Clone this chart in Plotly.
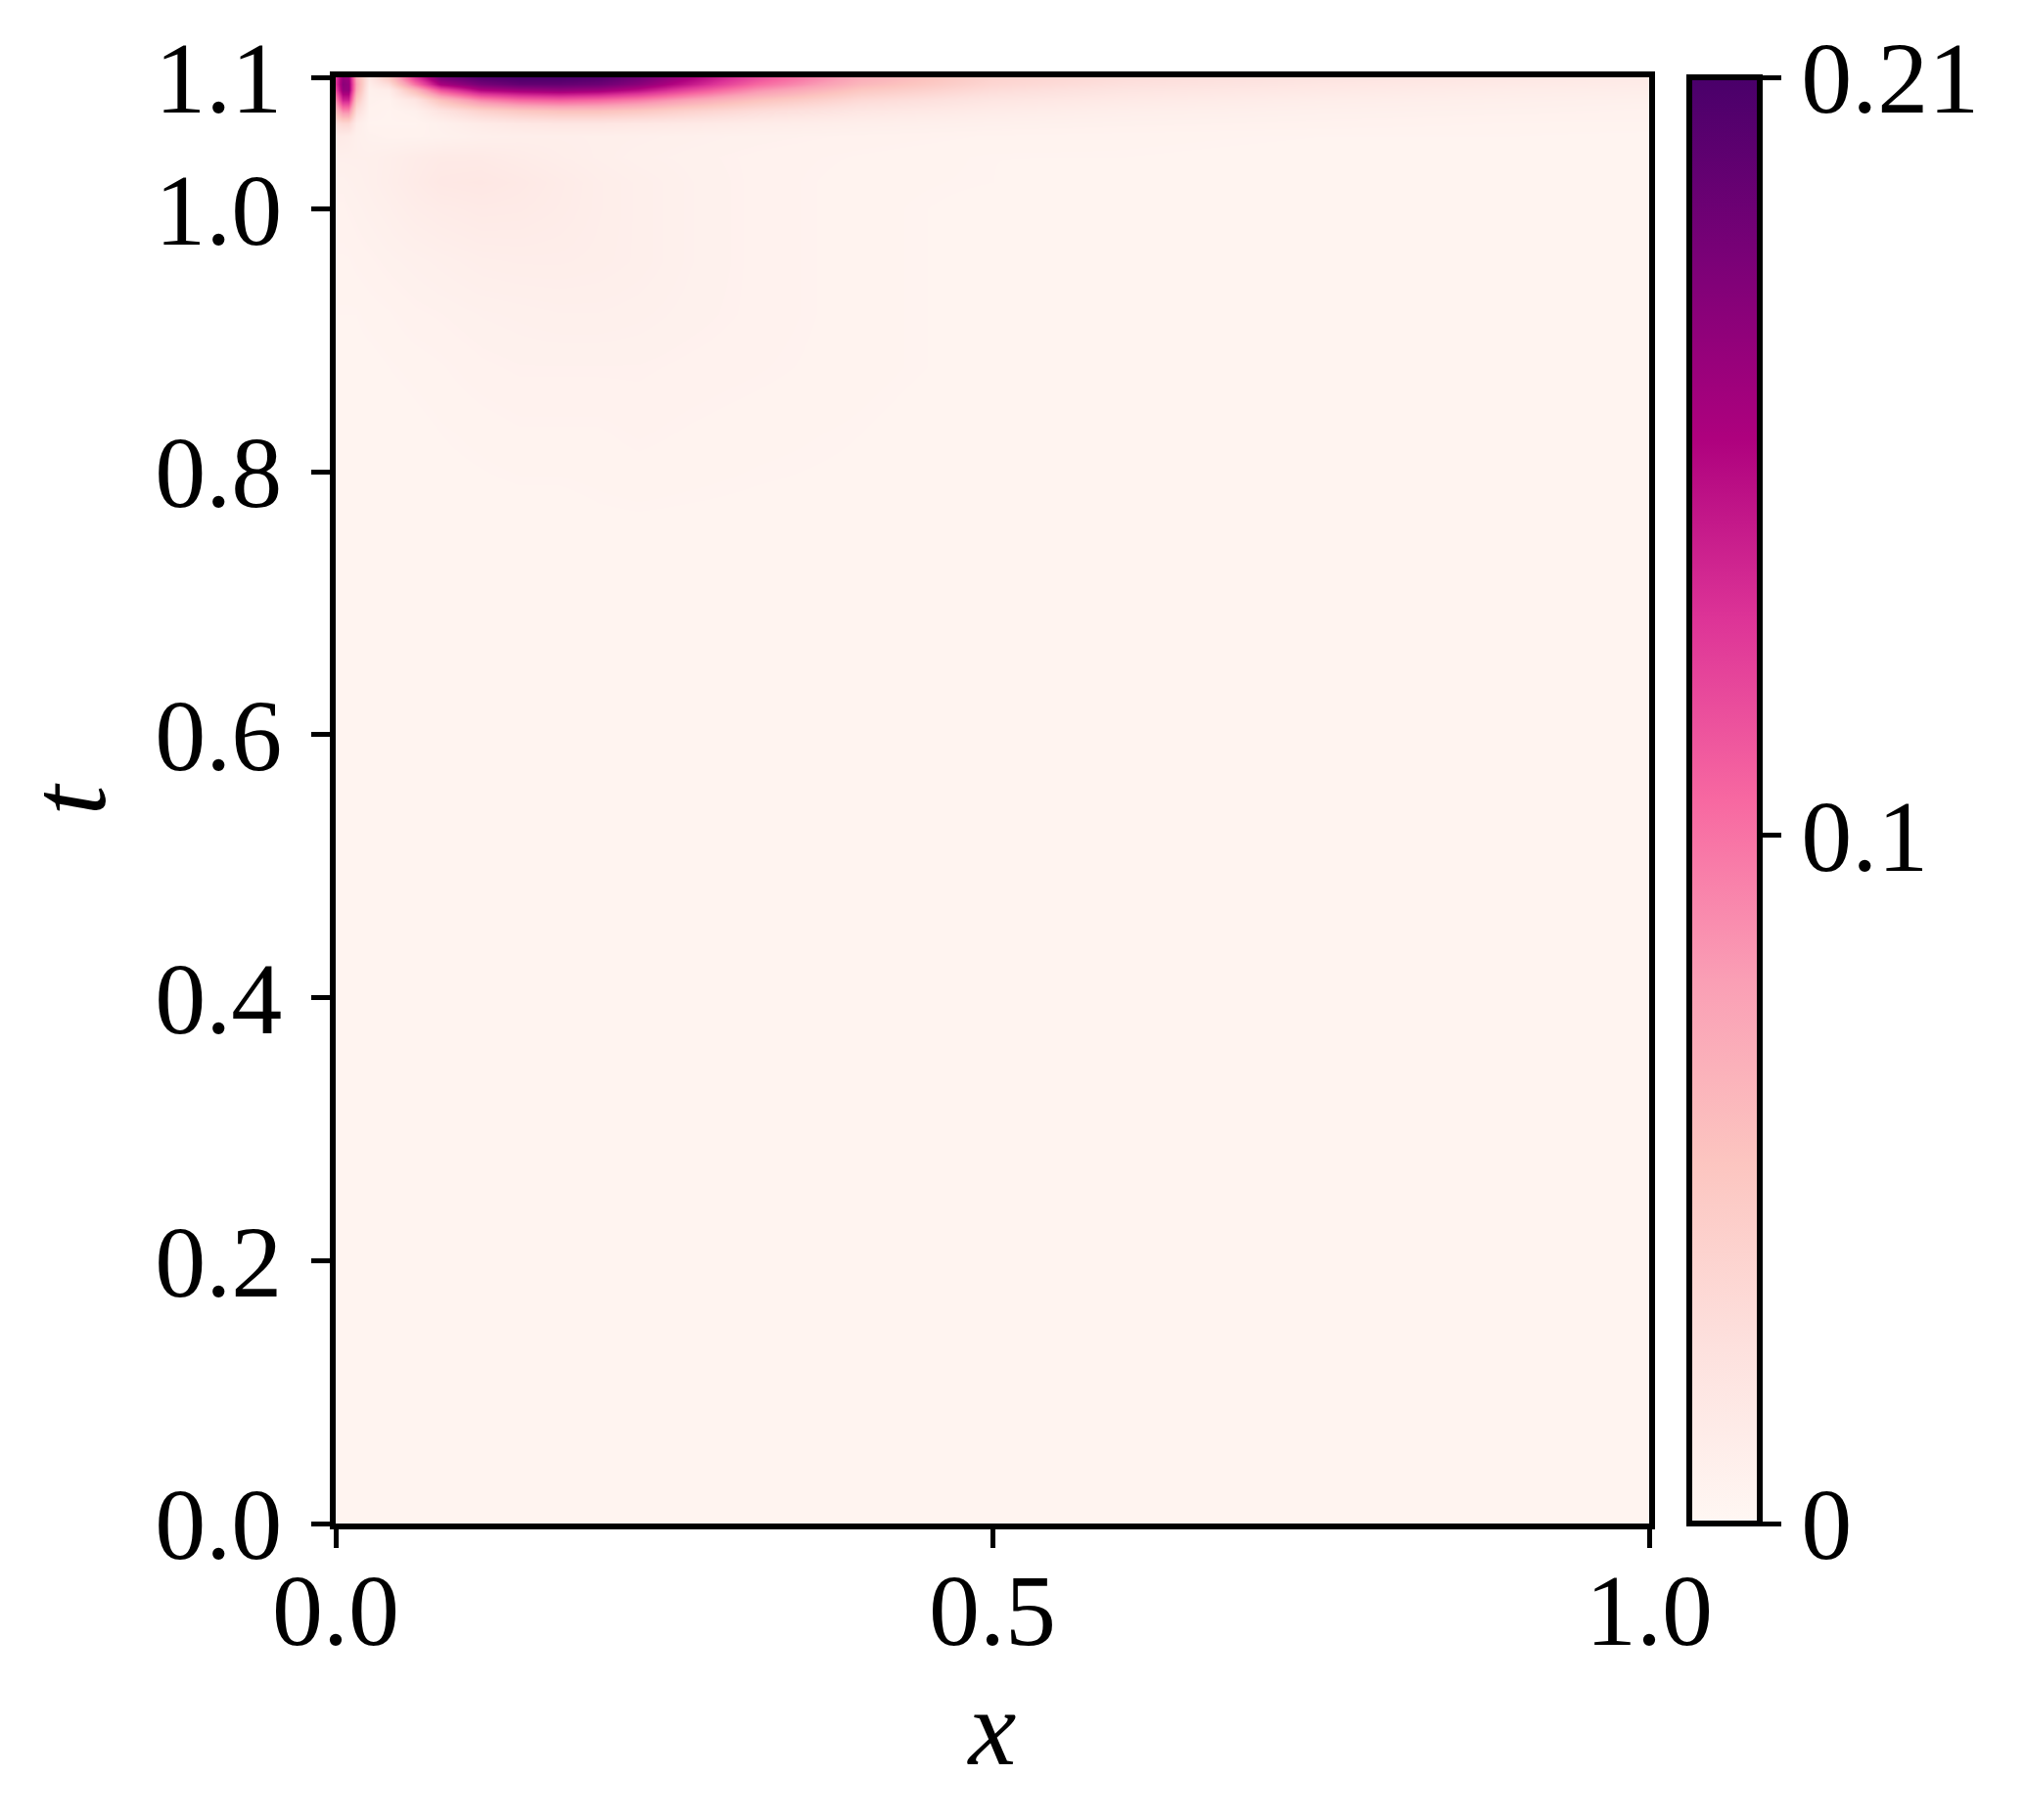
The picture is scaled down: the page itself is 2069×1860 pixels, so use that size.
import plotly.graph_objects as go

# grid (non-uniform, denser where the field changes fast)
x_vals = [0.0, 0.005, 0.01, 0.016, 0.025, 0.04, 0.06, 0.08, 0.11, 0.14, 0.17,
          0.2, 0.23, 0.27, 0.32, 0.4, 0.5, 0.6, 0.75, 0.9, 1.0]
t_vals = [0.0, 0.5, 0.75, 0.83, 0.88, 0.92, 0.96, 1.0, 1.02, 1.04, 1.055,
          1.065, 1.075, 1.083, 1.09, 1.095, 1.1]

# one row per t value, bottom to top
row_t000 = [.003] * 21
row_t050 = [.003] * 21
row_t075 = [.003, .003, .003, .003, .003, .003, .003, .003, .003, .003, .003,
            .0035, .0035, .0035, .0035, .0035, .003, .003, .003, .003, .003]
row_t083 = [.003, .003, .003, .003, .003, .003, .0035, .004, .0045, .005, .005,
            .005, .0055, .005, .0045, .004, .003, .003, .003, .003, .003]
row_t088 = [.0035, .0035, .0035, .0035, .0035, .004, .0045, .005, .006, .0065, .0065,
            .0065, .0065, .006, .0055, .0045, .0035, .003, .003, .003, .003]
row_t092 = [.004, .004, .004, .004, .0045, .005, .006, .0065, .0075, .008, .0085,
            .0085, .008, .007, .006, .0045, .0035, .003, .003, .003, .003]
row_t096 = [.005, .005, .005, .0055, .006, .007, .008, .009, .0105, .011, .011,
            .0105, .0095, .0075, .006, .0045, .0035, .003, .003, .003, .003]
row_t100 = [.006, .006, .0065, .007, .008, .0095, .012, .0135, .015, .0145, .013,
            .011, .0095, .0075, .006, .0045, .0035, .0035, .003, .003, .003]
row_t102 = [.007, .007, .0075, .008, .009, .011, .014, .017, .018, .016, .0135,
            .011, .0095, .0075, .006, .0045, .004, .0035, .0035, .0035, .0035]
row_t104 = [.009, .009, .009, .009, .009, .0105, .013, .015, .015, .013, .011,
            .0095, .008, .007, .006, .005, .004, .004, .0035, .0035, .0035]
row_t1055 = [.015, .014, .013, .009, .007, .006, .006, .007, .009, .01, .01,
             .0095, .009, .008, .007, .006, .005, .0045, .004, .004, .0035]
row_t1065 = [.03, .035, .035, .012, .005, .005, .005, .008, .014, .018, .02,
             .02, .018, .016, .013, .01, .008, .007, .006, .005, .005]
row_t1075 = [.06, .09, .09, .03, .006, .005, .008, .022, .04, .05, .055,
             .055, .05, .04, .03, .019, .013, .01, .008, .007, .006]
row_t1083 = [.09, .14, .14, .05, .007, .006, .02, .055, .09, .105, .11,
             .105, .095, .075, .055, .032, .02, .015, .011, .009, .008]
row_t109 = [.12, .17, .17, .07, .008, .012, .06, .115, .155, .165, .17,
            .165, .15, .12, .085, .05, .03, .021, .016, .012, .011]
row_t1095 = [.13, .175, .17, .075, .012, .03, .1, .16, .185, .195, .195,
             .19, .175, .145, .105, .062, .036, .026, .019, .015, .013]
row_t110 = [.13, .17, .165, .07, .018, .05, .13, .185, .205, .21, .21,
            .205, .19, .16, .12, .07, .04, .03, .023, .018, .015]

z_rows = [row_t000, row_t050, row_t075, row_t083, row_t088, row_t092, row_t096,
          row_t100, row_t102, row_t104, row_t1055, row_t1065, row_t1075, row_t1083,
          row_t109, row_t1095, row_t110]

x_ticks = [0.0, 0.5, 1.0]
t_ticks = [0.0, 0.2, 0.4, 0.6, 0.8, 1.0, 1.1]
cbar_ticks = [0, 0.1, 0.21]
cbar_labels = ["0", "0.1", "0.21"]

FONT = "Liberation Serif"
W, H = 2069, 1860
# plot box (page has an 8px body margin, so shifted by 8)
L, R, T, B = 335, 1677, 71, 1549

fig = go.Figure(go.Heatmap(
    x=x_vals, y=t_vals, z=z_rows,
    zmin=0, zmax=0.21,
    colorscale="RdPu",
    zsmooth="best",
    colorbar=dict(
        x=(1718 - L) / (R - L), xanchor="left",
        y=0.5, yanchor="middle",
        len=1, lenmode="fraction",
        thickness=72, thicknessmode="pixels",
        xpad=0, ypad=0,
        outlinewidth=6, outlinecolor="black",
        ticks="outside", ticklen=19, tickwidth=5, tickcolor="black",
        tickvals=cbar_ticks, ticktext=cbar_labels,
        tickfont=dict(family=FONT, size=104, color="black"),
    ),
))

axis_common = dict(
    showline=True, linewidth=6, linecolor="black", mirror=True,
    ticks="outside", ticklen=19, tickwidth=5, tickcolor="black",
    showgrid=False, zeroline=False,
    tickfont=dict(family=FONT, size=104, color="black"),
)

fig.update_layout(
    width=W, height=H,
    margin=dict(l=L, r=W - R, t=T, b=H - B),
    paper_bgcolor="white", plot_bgcolor="white",
    xaxis=dict(range=[0, 1], tickvals=x_ticks, tickformat=".1f",
               ticklabelstandoff=-26,
               title=dict(text="<i>x</i>", font=dict(family=FONT, size=110, color="black"),
                          standoff=26),
               **axis_common),
    yaxis=dict(range=[0, 1.1], tickvals=t_ticks, tickformat=".1f",
               ticklabelstandoff=9,
               title=dict(text="<i>t</i>", font=dict(family=FONT, size=110, color="black"),
                          standoff=16),
               **axis_common),
)

fig.write_html("out.html")
